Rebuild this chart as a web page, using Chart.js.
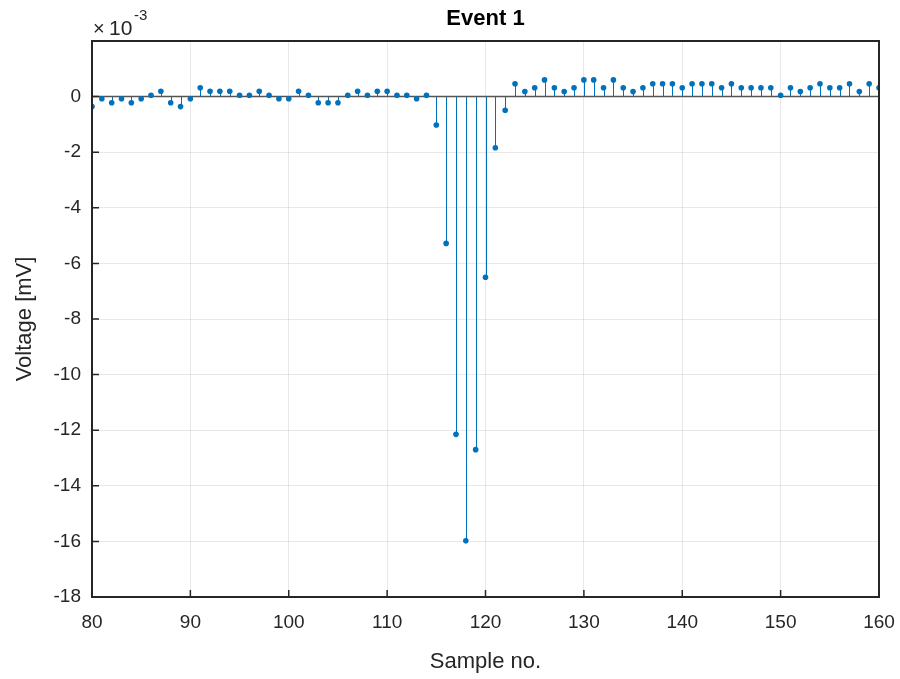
<!DOCTYPE html>
<html>
<head>
<meta charset="utf-8">
<script src="https://cdn.jsdelivr.net/npm/chart.js@4.4.0/dist/chart.umd.min.js"></script>
<style>
  html, body { margin: 0; padding: 0; background: #fff; }
  #wrap { width: 900px; height: 679px; }
</style>
</head>
<body>
<div id="wrap"><canvas id="stemChart" width="900" height="679"></canvas></div>
<script>
// sample numbers 80..160
const samples = [];
for (let n = 80; n <= 160; n++) samples.push(n);

// voltage, in units of 1e-3 mV
const voltage = [
  -0.36, -0.08, -0.22, -0.08, -0.22, -0.08, 0.05, 0.19, -0.22, -0.36,
  -0.08, 0.32, 0.19, 0.19, 0.19, 0.05, 0.05, 0.19, 0.05, -0.08,
  -0.08, 0.19, 0.05, -0.22, -0.22, -0.22, 0.05, 0.19, 0.05, 0.19,
  0.19, 0.05, 0.05, -0.08, 0.05, -1.02, -5.28, -12.15, -15.98, -12.7,
  -6.5, -1.84, -0.49, 0.46, 0.18, 0.32, 0.6, 0.32, 0.18, 0.32,
  0.6, 0.6, 0.32, 0.6, 0.32, 0.18, 0.32, 0.46, 0.46, 0.46,
  0.32, 0.46, 0.46, 0.46, 0.32, 0.46, 0.32, 0.32, 0.32, 0.32,
  0.05, 0.32, 0.18, 0.32, 0.46, 0.32, 0.32, 0.46, 0.18, 0.46,
  0.32
];

const xTicks = [80, 90, 100, 110, 120, 130, 140, 150, 160];
const yTicks = [-18, -16, -14, -12, -10, -8, -6, -4, -2, 0];

const stemColor = "#0072BD";
const axisColor = "#262626";
const fontFamily = "Arial, 'Liberation Sans', Helvetica, sans-serif";

// stems + baseline + box + title text
const stemPlugin = {
  id: "stems",
  beforeDatasetsDraw(chart) {
    const { ctx, scales: { x, y }, chartArea } = chart;
    const y0 = y.getPixelForValue(0);
    ctx.save();
    ctx.strokeStyle = stemColor;
    ctx.lineWidth = 1;
    samples.forEach((n, i) => {
      const px = Math.round(x.getPixelForValue(n)) + 0.5;
      ctx.beginPath();
      ctx.moveTo(px, y0);
      ctx.lineTo(px, y.getPixelForValue(voltage[i]));
      ctx.stroke();
    });
    // baseline
    ctx.strokeStyle = "#555";
    ctx.lineWidth = 1.5;
    ctx.beginPath();
    ctx.moveTo(chartArea.left, y0);
    ctx.lineTo(chartArea.right, y0);
    ctx.stroke();
    ctx.restore();
  },
  afterDraw(chart) {
    const { ctx, chartArea, scales: { x, y } } = chart;
    ctx.save();
    ctx.strokeStyle = axisColor;
    ctx.lineWidth = 2;
    ctx.strokeRect(chartArea.left, chartArea.top, chartArea.right - chartArea.left, chartArea.bottom - chartArea.top);

    // inward tick marks on bottom and left
    ctx.lineWidth = 1.5;
    ctx.beginPath();
    xTicks.forEach(v => {
      const px = x.getPixelForValue(v);
      ctx.moveTo(px, chartArea.bottom);
      ctx.lineTo(px, chartArea.bottom - 7);
    });
    yTicks.forEach(v => {
      const py = y.getPixelForValue(v);
      ctx.moveTo(chartArea.left, py);
      ctx.lineTo(chartArea.left + 7, py);
    });
    ctx.stroke();

    ctx.fillStyle = "#000";
    ctx.font = "bold 22px " + fontFamily;
    ctx.textAlign = "center";
    ctx.textBaseline = "middle";
    ctx.fillText("Event 1", (chartArea.left + chartArea.right) / 2, 19);

    // exponent label
    ctx.fillStyle = axisColor;
    ctx.textAlign = "left";
    ctx.textBaseline = "alphabetic";
    ctx.font = "20px " + fontFamily;
    ctx.fillText("\u00d7", chartArea.left + 1, 35);
    ctx.font = "21px " + fontFamily;
    ctx.fillText("10", chartArea.left + 17, 35);
    ctx.font = "15px " + fontFamily;
    ctx.fillText("-3", chartArea.left + 42, 20);
    ctx.restore();
  }
};

new Chart(document.getElementById("stemChart").getContext("2d"), {
  type: "scatter",
  data: {
    datasets: [{
      label: "Event 1",
      data: samples.map((n, i) => ({ x: n, y: voltage[i] })),
      backgroundColor: stemColor,
      borderColor: stemColor,
      pointRadius: 2.8,
      pointHoverRadius: 2.8,
      borderWidth: 0
    }]
  },
  options: {
    responsive: false,
    animation: false,
    layout: { padding: { top: 41, right: 21, left: 0, bottom: 0 } },
    plugins: {
      legend: { display: false },
      tooltip: { enabled: false }
    },
    scales: {
      x: {
        type: "linear",
        min: 80,
        max: 160,
        afterBuildTicks: s => { s.ticks = xTicks.map(v => ({ value: v })); },
        afterFit: s => { s.height = 82; s.paddingLeft = 0; s.paddingRight = 0; },
        grid: { color: "rgba(0,0,0,0.09)", drawTicks: false },
        border: { display: false },
        ticks: {
          color: axisColor,
          font: { size: 19, family: fontFamily },
          padding: 14,
          maxRotation: 0
        },
        title: {
          display: true,
          text: "Sample no.",
          color: axisColor,
          font: { size: 22, family: fontFamily },
          padding: { top: 8 }
        }
      },
      y: {
        min: -18,
        max: 2,
        afterBuildTicks: s => { s.ticks = yTicks.map(v => ({ value: v })); },
        afterFit: s => { s.width = 92; s.paddingTop = 0; s.paddingBottom = 0; },
        grid: { color: "rgba(0,0,0,0.09)", drawTicks: false },
        border: { display: false },
        ticks: {
          color: axisColor,
          font: { size: 19, family: fontFamily },
          padding: 11
        },
        title: {
          display: true,
          text: "Voltage [mV]",
          color: axisColor,
          font: { size: 22, family: fontFamily },
          padding: { top: 12, bottom: 0 }
        }
      }
    }
  },
  plugins: [stemPlugin]
});
</script>
</body>
</html>
